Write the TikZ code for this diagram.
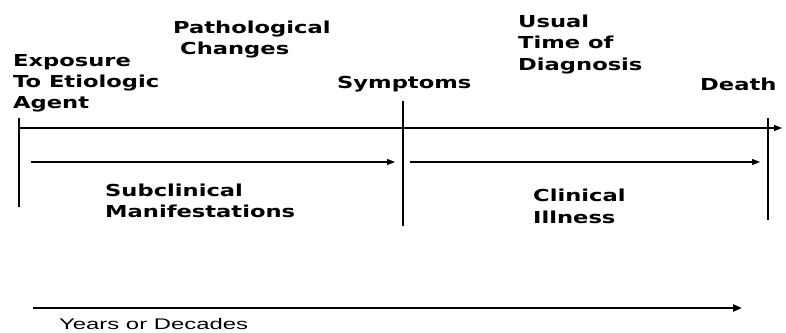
\documentclass[tikz,border=0pt]{standalone}
\usepackage{fontspec}
\usetikzlibrary{arrows.meta}
% Wide bold sans for the stage labels, plain sans for the time axis
\newfontfamily\stagefont{DejaVu Sans}[FakeStretch=1.37]
\newfontfamily\axisfont{Liberation Sans}[FakeStretch=1.55]
\begin{document}
\begin{tikzpicture}[x=1pt,y=-1pt,
  stagelabel/.style={inner sep=0pt,anchor=base west,align=left,
    font=\stagefont\bfseries\fontsize{16.5}{20.6}\selectfont},
  axislabel/.style={inner sep=0pt,anchor=base west,
    font=\axisfont\fontsize{15.4}{18}\selectfont},
  timeline/.style={line width=1.3pt,-{Triangle[length=8pt,width=6pt]}},
  spanarrow/.style={line width=1.3pt,-{Triangle[length=8pt,width=6pt]}},
  tick/.style={line width=1.3pt},
  yearsarrow/.style={line width=2.6pt,-{Triangle[length=9pt,width=7pt]}}]
\useasboundingbox (0,0) rectangle (786,332);

% Labels above the timeline (placed by the baseline of their last line)
\node[stagelabel] (exposure) at (13,108) {Exposure\\To Etiologic\\Agent};
\node[stagelabel] (patho) at (173,54) {Pathological\\\hspace*{7pt}Changes};
\node[stagelabel] (symptoms) at (337,88) {Symptoms};
\node[stagelabel,font=\stagefont\bfseries\fontsize{16.5}{21.5}\selectfont]
  (diagnosis) at (518,70) {Usual\\Time of\\Diagnosis};
\node[stagelabel] (death) at (700,90) {Death};

% Labels of the two periods
\node[stagelabel,font=\stagefont\bfseries\fontsize{16.5}{21}\selectfont]
  (subclinical) at (105,217) {Subclinical\\Manifestations};
\node[stagelabel,font=\stagefont\bfseries\fontsize{16.5}{22}\selectfont]
  (clinical) at (533,223) {Clinical\\Illness};

% Timeline and its marks
\coordinate (tstart) at (19,128);
\coordinate (tend) at (782,128);
\coordinate (exptop) at (19,118);
\coordinate (expbot) at (19,207);
\coordinate (symtop) at (403,101);
\coordinate (symbot) at (403,226);
\coordinate (deathtop) at (768,118);
\coordinate (deathbot) at (768,220);
\draw[timeline] (tstart) -- (tend);
\draw[tick] (exptop) -- (expbot);
\draw[tick] (symtop) -- (symbot);
\draw[tick] (deathtop) -- (deathbot);

% Period arrows
\coordinate (subA) at (31,162);
\coordinate (subB) at (395,162);
\coordinate (cliA) at (410,162);
\coordinate (cliB) at (760,162);
\draw[spanarrow] (subA) -- (subB);
\draw[spanarrow] (cliA) -- (cliB);

% Time scale
\coordinate (yrA) at (33,308);
\coordinate (yrB) at (742,308);
\draw[yearsarrow] (yrA) -- (yrB);
\node[axislabel] (years) at (59,329) {Years or Decades};
\end{tikzpicture}
\end{document}
